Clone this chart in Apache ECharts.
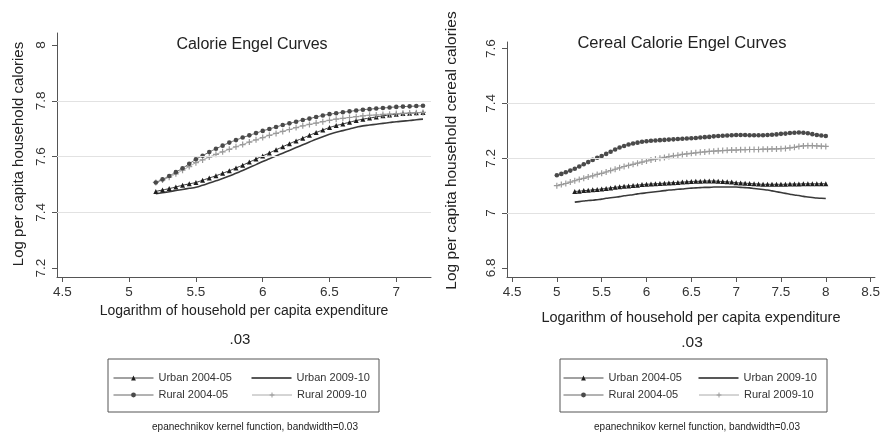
<!DOCTYPE html>
<html>
<head>
<meta charset="utf-8">
<script src="https://cdn.jsdelivr.net/npm/echarts@6/dist/echarts.min.js"></script>
<style>
html,body{margin:0;padding:0;background:#fff;}
#c{width:883px;height:433px;}
</style>
</head>
<body>
<div id="c"></div>
<script>
// ---------- DATA ----------
const seriesNames = ['Urban 2004-05', 'Urban 2009-10', 'Rural 2004-05', 'Rural 2009-10'];

// Left chart: Calorie Engel Curves
const xTicksLeft = [4.5, 5, 5.5, 6, 6.5, 7];
const yTicksLeft = [7.2, 7.4, 7.6, 7.8, 8];
const yGridLeft = [7.4, 7.6, 7.8];
const xLeft = [5.20,5.25,5.30,5.35,5.40,5.45,5.50,5.55,5.60,5.65,5.70,5.75,5.80,5.85,5.90,5.95,6.00,6.05,6.10,6.15,6.20,6.25,6.30,6.35,6.40,6.45,6.50,6.55,6.60,6.65,6.70,6.75,6.80,6.85,6.90,6.95,7.00,7.05,7.10,7.15,7.20];
const leftUrban0405 = [7.475,7.480,7.485,7.491,7.497,7.502,7.507,7.515,7.523,7.531,7.540,7.549,7.559,7.569,7.580,7.591,7.602,7.613,7.624,7.635,7.646,7.656,7.666,7.676,7.686,7.695,7.704,7.711,7.717,7.723,7.729,7.734,7.738,7.742,7.746,7.749,7.752,7.754,7.755,7.757,7.758];
const leftUrban0910 = [7.467,7.470,7.474,7.478,7.482,7.486,7.490,7.497,7.505,7.513,7.521,7.530,7.540,7.550,7.561,7.571,7.582,7.592,7.602,7.612,7.622,7.632,7.642,7.652,7.662,7.671,7.680,7.687,7.693,7.699,7.705,7.710,7.713,7.716,7.719,7.722,7.725,7.727,7.729,7.732,7.734];
const leftRural0405 = [7.507,7.518,7.530,7.544,7.558,7.574,7.590,7.603,7.616,7.628,7.639,7.650,7.659,7.668,7.676,7.684,7.692,7.699,7.706,7.713,7.719,7.725,7.731,7.736,7.742,7.747,7.752,7.755,7.759,7.762,7.765,7.768,7.770,7.772,7.774,7.776,7.778,7.779,7.780,7.781,7.782];
const leftRural0910 = [7.507,7.516,7.526,7.538,7.551,7.564,7.578,7.588,7.598,7.608,7.617,7.626,7.635,7.643,7.652,7.660,7.668,7.676,7.683,7.690,7.697,7.704,7.710,7.715,7.720,7.725,7.730,7.734,7.737,7.740,7.743,7.746,7.748,7.749,7.751,7.752,7.754,7.755,7.756,7.757,7.758];

// Right chart: Cereal Calorie Engel Curves
const xTicksRight = [4.5, 5, 5.5, 6, 6.5, 7, 7.5, 8, 8.5];
const yTicksRight = [6.8, 7, 7.2, 7.4, 7.6];
const yGridRight = [7.0, 7.2, 7.4];
const xRightRural = [5.00,5.05,5.10,5.15,5.20,5.25,5.30,5.35,5.40,5.45,5.50,5.55,5.60,5.65,5.70,5.75,5.80,5.85,5.90,5.95,6.00,6.05,6.10,6.15,6.20,6.25,6.30,6.35,6.40,6.45,6.50,6.55,6.60,6.65,6.70,6.75,6.80,6.85,6.90,6.95,7.00,7.05,7.10,7.15,7.20,7.25,7.30,7.35,7.40,7.45,7.50,7.55,7.60,7.65,7.70,7.75,7.80,7.85,7.90,7.95,8.00];
const rightRural0405 = [7.138,7.143,7.149,7.155,7.162,7.170,7.178,7.186,7.194,7.202,7.208,7.216,7.224,7.232,7.239,7.245,7.250,7.254,7.257,7.260,7.262,7.264,7.265,7.266,7.267,7.268,7.269,7.270,7.271,7.272,7.273,7.274,7.276,7.277,7.278,7.280,7.281,7.282,7.283,7.284,7.285,7.285,7.285,7.284,7.284,7.284,7.284,7.285,7.286,7.287,7.289,7.290,7.292,7.293,7.294,7.293,7.291,7.288,7.285,7.283,7.281];
const rightRural0910 = [7.100,7.104,7.108,7.113,7.118,7.123,7.127,7.132,7.136,7.141,7.145,7.150,7.155,7.160,7.165,7.170,7.174,7.178,7.182,7.186,7.190,7.194,7.197,7.200,7.203,7.206,7.209,7.211,7.214,7.216,7.218,7.220,7.222,7.223,7.225,7.226,7.227,7.228,7.229,7.230,7.230,7.231,7.231,7.232,7.232,7.232,7.233,7.233,7.234,7.234,7.235,7.236,7.238,7.240,7.243,7.245,7.246,7.246,7.245,7.244,7.243];
const xRightUrban = [5.20,5.25,5.30,5.35,5.40,5.45,5.50,5.55,5.60,5.65,5.70,5.75,5.80,5.85,5.90,5.95,6.00,6.05,6.10,6.15,6.20,6.25,6.30,6.35,6.40,6.45,6.50,6.55,6.60,6.65,6.70,6.75,6.80,6.85,6.90,6.95,7.00,7.05,7.10,7.15,7.20,7.25,7.30,7.35,7.40,7.45,7.50,7.55,7.60,7.65,7.70,7.75,7.80,7.85,7.90,7.95,8.00];
const rightUrban0405 = [7.079,7.080,7.082,7.083,7.085,7.086,7.088,7.090,7.092,7.094,7.096,7.098,7.099,7.101,7.102,7.104,7.105,7.106,7.107,7.108,7.109,7.110,7.111,7.112,7.113,7.114,7.115,7.116,7.116,7.117,7.117,7.117,7.116,7.115,7.114,7.113,7.111,7.110,7.109,7.108,7.107,7.106,7.105,7.105,7.105,7.105,7.105,7.105,7.106,7.106,7.106,7.107,7.107,7.107,7.107,7.107,7.107];
const rightUrban0910 = [7.040,7.042,7.044,7.046,7.047,7.049,7.051,7.054,7.056,7.058,7.060,7.063,7.065,7.067,7.070,7.072,7.074,7.076,7.078,7.080,7.082,7.084,7.085,7.087,7.088,7.090,7.091,7.092,7.093,7.094,7.094,7.095,7.095,7.095,7.095,7.095,7.095,7.094,7.093,7.092,7.090,7.088,7.086,7.084,7.081,7.078,7.075,7.072,7.069,7.066,7.064,7.061,7.059,7.057,7.055,7.054,7.053];

// ---------- STYLE ----------
const FONT = '"Liberation Sans", Arial, sans-serif';
const plusPath = 'path://M4,0H6V4H10V6H6V10H4V6H0V4H4Z';
const thickLineIcon = 'path://M0,0H0.01V6H0ZM0,2.2H40V3.8H0Z';
const GRID_C = '#e2e2e2';
const styles = {
  'Urban 2004-05': {symbol: 'triangle', symbolSize: 5, color: '#1e1e1e', line: '#333', width: 1},
  'Urban 2009-10': {symbol: 'none', symbolSize: 0, color: '#3a3a3a', line: '#3a3a3a', width: 1.6},
  'Rural 2004-05': {symbol: 'circle', symbolSize: 4.6, color: '#4a4a4a', line: '#666', width: 1},
  'Rural 2009-10': {symbol: plusPath, symbolSize: 6, color: '#9a9a9a', line: '#aaa', width: 1}
};

function pairs(xs, ys) { return xs.map((x, i) => [x, ys[i]]); }

function mkSeries(name, xi, yi, data, gridVals) {
  const s = styles[name];
  const o = {
    name: name, type: 'line', xAxisIndex: xi, yAxisIndex: yi,
    data: data, smooth: true,
    symbol: s.symbol, showSymbol: s.symbol !== 'none',
    symbolSize: s.symbolSize,
    itemStyle: {color: s.color, borderWidth: 0},
    lineStyle: {color: s.line, width: s.width},
    emphasis: {disabled: true}, animation: false, z: gridVals ? 1 : 2
  };
  if (gridVals) {
    o.markLine = {
      silent: true, animation: false, symbol: ['none', 'none'],
      label: {show: false}, emphasis: {disabled: true},
      lineStyle: {color: GRID_C, type: 'solid', width: 1},
      data: gridVals.map(v => ({yAxis: v}))
    };
  }
  return o;
}

function onTicks(v, ticks) { return ticks.some(t => Math.abs(t - v) < 1e-6); }

const axisLineStyle = {show: true, lineStyle: {color: '#555', width: 1}};

function xAxisCfg(gi, min, max, ticks, name, nameSize, nameGap) {
  return {
    type: 'value', gridIndex: gi, min: min, max: max, splitNumber: gi === 0 ? 5 : 8,
    name: name, nameLocation: 'middle', nameGap: nameGap,
    nameTextStyle: {fontFamily: FONT, fontSize: nameSize, color: '#222'},
    axisLine: axisLineStyle,
    axisTick: {show: true, length: 5, inside: false, lineStyle: {color: '#555'}, customValues: ticks},
    axisLabel: {fontFamily: FONT, fontSize: 13.5, color: '#333', margin: 8, customValues: ticks,
      formatter: v => onTicks(v, ticks) ? String(v) : ''},
    splitLine: {show: false}
  };
}
function yAxisCfg(gi, min, max, ticks, name, nameSize, nameGap, shift) {
  return {
    type: 'value', gridIndex: gi, min: min, max: max, splitNumber: 4,
    name: name, nameLocation: 'middle', nameGap: nameGap,
    nameTextStyle: {fontFamily: FONT, fontSize: nameSize, color: '#222', padding: [0, 0, 0, shift]},
    axisLine: axisLineStyle,
    axisTick: {show: true, length: 5, inside: false, lineStyle: {color: '#555'}, customValues: ticks},
    axisLabel: {fontFamily: FONT, fontSize: 13.5, color: '#333', rotate: 90, margin: 9, customValues: ticks,
      formatter: v => onTicks(v, ticks) ? String(v) : ''},
    splitLine: {show: false}
  };
}

function legendCfg(left, top, padL, w1, w2) {
  return {
    left: left, top: top, orient: 'horizontal', width: 2 * 40 + 10 + w1 + w2 + 8,
    padding: [12, 7, 10, padL], itemGap: 3, itemWidth: 40, itemHeight: 6,
    borderColor: '#555', borderWidth: 1, backgroundColor: '#fff',
    selectedMode: false,
    textStyle: {fontFamily: FONT, fontSize: 11, color: '#333', lineHeight: 14},
    data: [
      {name: 'Urban 2004-05', textStyle: {width: w1}, lineStyle: {width: 1, color: '#444'}},
      {name: 'Urban 2009-10', textStyle: {width: w2}, icon: thickLineIcon, itemStyle: {color: '#222'}},
      {name: 'Rural 2004-05', textStyle: {width: w1}, lineStyle: {width: 1, color: '#666'}},
      {name: 'Rural 2009-10', textStyle: {width: w2}, lineStyle: {width: 1, color: '#aaa'}}
    ]
  };
}

function txt(x, y, text, size, color) {
  return {type: 'text', x: x, y: y, style: {text: text, fontFamily: FONT, fontSize: size, fill: color || '#222', align: 'center', verticalAlign: 'middle'}, silent: true};
}

const option = {
  backgroundColor: '#fff',
  animation: false,
  grid: [
    {left: 57, right: 452, top: 33, bottom: 156, containLabel: false},
    {left: 507, right: 6, top: 42, bottom: 156, containLabel: false}
  ],
  xAxis: [
    xAxisCfg(0, 4.46, 7.26, xTicksLeft, 'Logarithm of household per capita expenditure', 14, 27),
    xAxisCfg(1, 4.444, 8.548, xTicksRight, 'Logarithm of household per capita expenditure', 14.5, 33)
  ],
  yAxis: [
    yAxisCfg(0, 7.168, 8.043, yTicksLeft, 'Log per capita household calories', 15, 31, 2),
    yAxisCfg(1, 6.767, 7.624, yTicksRight, 'Log per capita household cereal calories', 15.5, 47, 18)
  ],
  legend: [
    legendCfg(108, 359, 5, 90, 75),
    legendCfg(560, 359, 3, 87, 76)
  ],
  series: [
    mkSeries('Urban 2009-10', 0, 0, pairs(xLeft, leftUrban0910), yGridLeft),
    mkSeries('Urban 2004-05', 0, 0, pairs(xLeft, leftUrban0405)),
    mkSeries('Rural 2009-10', 0, 0, pairs(xLeft, leftRural0910)),
    mkSeries('Rural 2004-05', 0, 0, pairs(xLeft, leftRural0405)),
    mkSeries('Urban 2009-10', 1, 1, pairs(xRightUrban, rightUrban0910), yGridRight),
    mkSeries('Urban 2004-05', 1, 1, pairs(xRightUrban, rightUrban0405)),
    mkSeries('Rural 2009-10', 1, 1, pairs(xRightRural, rightRural0910)),
    mkSeries('Rural 2004-05', 1, 1, pairs(xRightRural, rightRural0405))
  ],
  graphic: [
    txt(252, 45, 'Calorie Engel Curves', 16),
    txt(682, 43, 'Cereal Calorie Engel Curves', 16.5),
    txt(240, 340, '.03', 15),
    txt(692, 343, '.03', 15.5),
    txt(255, 427, 'epanechnikov kernel function, bandwidth=0.03', 10),
    txt(697, 427, 'epanechnikov kernel function, bandwidth=0.03', 10)
  ]
};

const chart = echarts.init(document.getElementById('c'), null, {renderer: 'canvas'});
chart.setOption(option);
</script>
</body>
</html>
